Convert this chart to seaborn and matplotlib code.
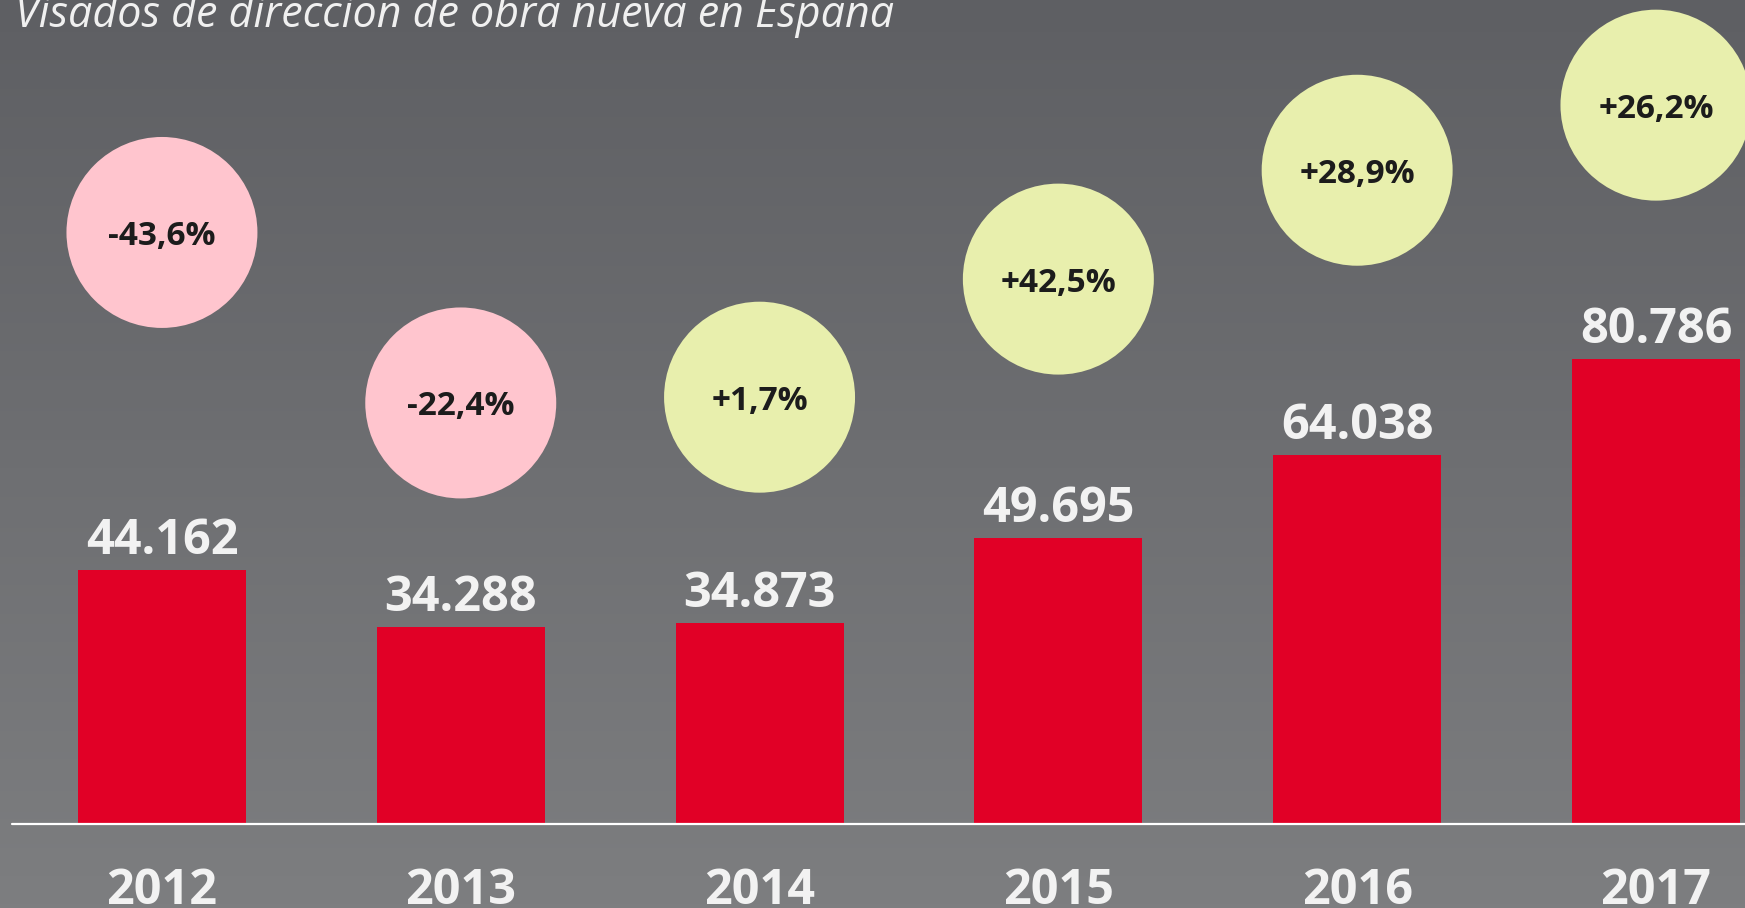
import numpy as np
import pandas as pd
import matplotlib
matplotlib.use("Agg")
import matplotlib.pyplot as plt
import seaborn as sns

# Data
years = ["2012", "2013", "2014", "2015", "2016", "2017"]
visados = [44162, 34288, 34873, 49695, 64038, 80786]
value_labels = ["44.162", "34.288", "34.873", "49.695", "64.038", "80.786"]
change_labels = ["-43,6%", "-22,4%", "+1,7%", "+42,5%", "+28,9%", "+26,2%"]
change_pct = [-43.6, -22.4, 1.7, 42.5, 28.9, 26.2]

# layout: height (in data units) of each bubble centre
bubble_y = [102700, 73100, 74100, 94600, 113500, 124800]

df = pd.DataFrame({"year": years, "visados": visados})

sns.set_theme(style="white")
plt.rcParams['font.family'] = ['Open Sans', 'DejaVu Sans']

fig = plt.figure(figsize=(17.45, 9.08), dpi=100)
ax = fig.add_axes([0, 0, 1, 1])

xlim = (-0.542, 5.298)
ylim = (-14583, 143056)

# background gradient, darker at top
grad = np.linspace(0, 1, 256).reshape(-1, 1)
cmap = matplotlib.colors.LinearSegmentedColormap.from_list("bg", ["#5e5f63", "#7d7e80"])
ax.imshow(grad, extent=[xlim[0], xlim[1], ylim[0], ylim[1]], aspect="auto",
          cmap=cmap, zorder=0, origin="upper")

sns.barplot(data=df, x="year", y="visados", color="#e10026", saturation=1,
            width=0.562, linewidth=0, edgecolor="none", ax=ax, zorder=2)

ax.set_xlim(xlim)
ax.set_ylim(ylim)
ax.axhline(0, xmin=12 / 1745, xmax=1, color="white", lw=1.6, zorder=3)

for i, (v, lab) in enumerate(zip(visados, value_labels)):
    ax.annotate(lab, (i, v), xytext=(0, 11.5), textcoords="offset points",
                ha="center", va="baseline", fontsize=35, fontweight="bold",
                color="#f2f2f2")
    ax.annotate(years[i], (i, 0), xytext=(0, -57.5), textcoords="offset points",
                ha="center", va="baseline", fontsize=35, fontweight="bold",
                color="#f2f2f2")

colors = ["#ffc5ce" if p < 0 else "#e8efad" for p in change_pct]
ax.scatter(range(len(years)), bubble_y, s=18906, c=colors, linewidths=0, zorder=3)
for i, lab in enumerate(change_labels):
    ax.text(i, bubble_y[i], lab, ha="center", va="center_baseline", fontsize=24,
            fontweight="bold", color="#1c1c1c", zorder=4)

ax.axis("off")

fig.text(15 / 1745, 1 - 27 / 908, "Visados de dirección de obra nueva en España",
         fontsize=31, style="italic", color="#f0f0f0",
         ha="left", va="baseline")

fig.savefig("out.png", dpi=100)
